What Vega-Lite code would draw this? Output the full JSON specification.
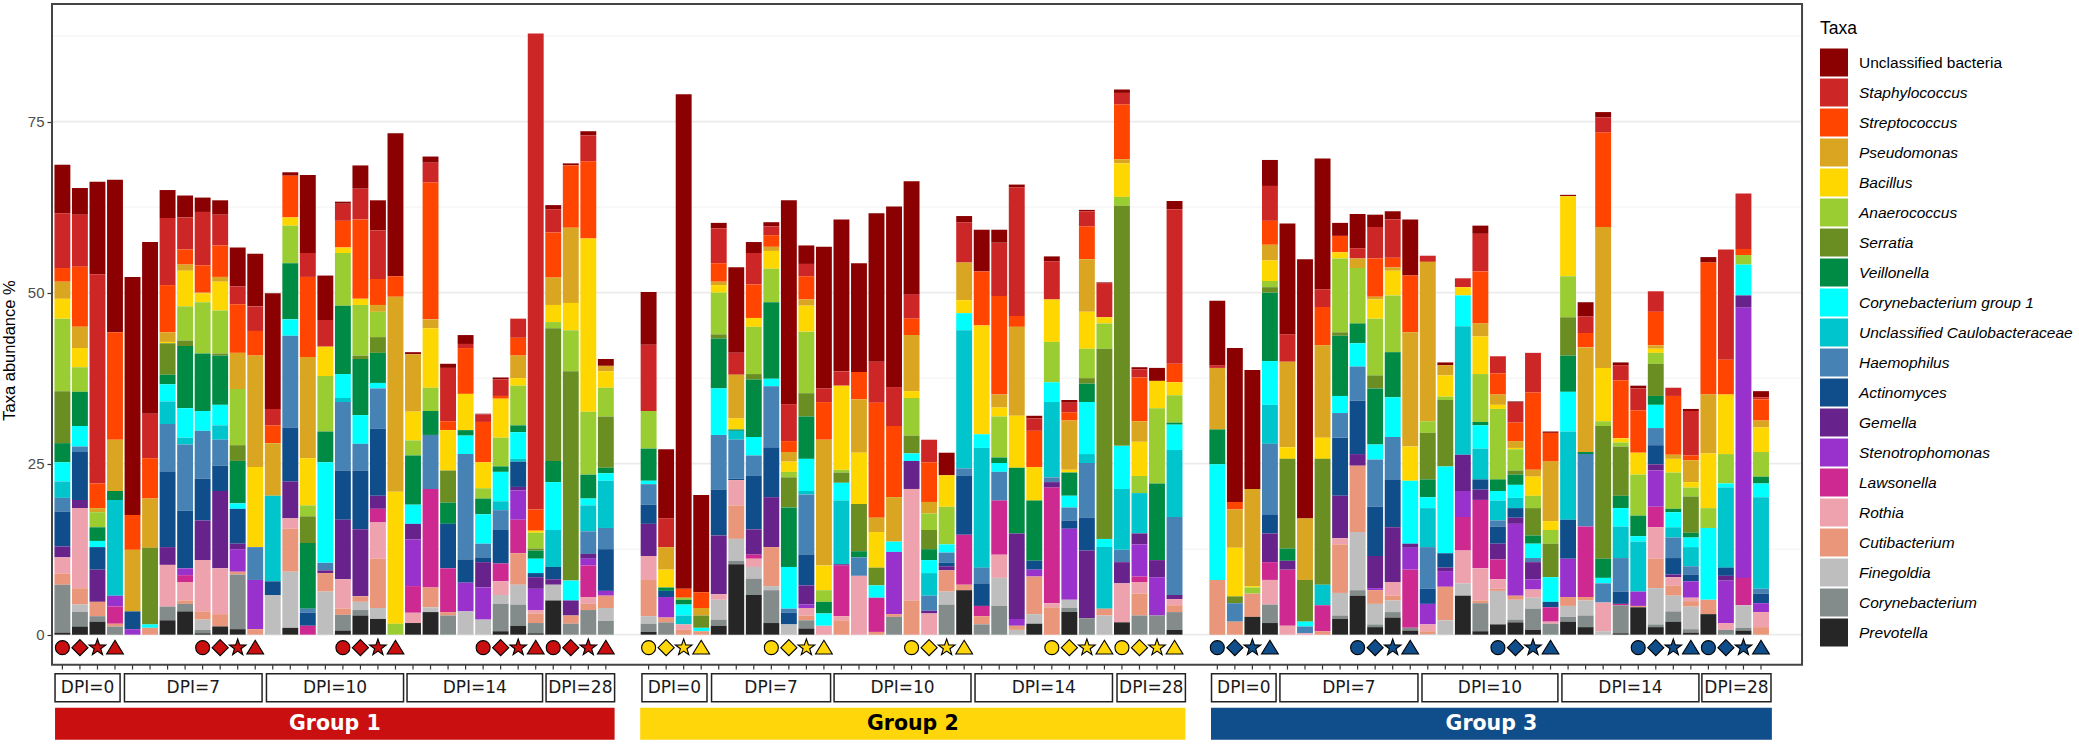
{
"$schema":"https://vega.github.io/schema/vega-lite/v6.json",
"width":1750,"height":736,"autosize":"none",
"padding":{"left":52,"top":4,"right":277,"bottom":5},
"background":"white",
"config":{"view":{"stroke":null},"font":"Liberation Sans"},
"resolve":{"axis":{"y":"independent"}},
"datasets":{
"samples":[
{"s":1,"group":"Group 1","rep":"circle","unc":7.1,"sta":8,"str":2,"pse":2.5,"bac":2.9,"ana":10.6,"ser":7.6,"vei":2.8,"cg1":2.8,"cau":2.4,"hae":2,"act":5.1,"gem":1.6,"rot":2.4,"cut":1.6,"cor":7,"pre":0.3},
{"s":2,"group":"Group 1","rep":"diamond","unc":3.9,"sta":7.6,"str":8.8,"pse":3.1,"bac":2.8,"ana":3.6,"vei":5,"cg1":3,"hae":0.8,"act":7,"gem":1.2,"rot":11.7,"cut":2.4,"fin":1.1,"cor":2.1,"pre":1.2},
{"s":3,"group":"Group 1","rep":"star","unc":13.5,"sta":30.6,"str":3.6,"pse":0.6,"ana":2.2,"vei":2,"cg1":0.9,"act":3.3,"gem":4.7,"cut":2.1,"cor":0.8,"pre":1.9},
{"s":4,"group":"Group 1","rep":"triangle","unc":22.3,"str":15.7,"pse":7.5,"vei":1.3,"cau":14,"ste":1.6,"law":2.5,"cut":0.4,"cor":1.2},
{"s":5,"group":"Group 1","unc":34.8,"str":5.1,"pse":9,"act":2.6,"ste":0.8},
{"s":6,"group":"Group 1","unc":25.1,"sta":6.5,"str":5.9,"pse":7.2,"ser":11.2,"cg1":0.5,"cut":1},
{"s":7,"group":"Group 1","unc":4.1,"sta":9.8,"str":6.9,"pse":1.4,"bac":0.2,"ser":4.6,"vei":1.4,"cg1":2.5,"cau":3.3,"hae":7,"act":11,"gem":2.6,"rot":6.1,"cor":2,"pre":2.1},
{"s":8,"group":"Group 1","unc":3.2,"sta":4.7,"str":2.2,"pse":0.9,"bac":5.2,"ana":5,"ser":0.8,"vei":9.1,"cg1":4.3,"cau":1,"hae":9.7,"act":8.4,"ste":1,"law":1,"rot":2.7,"cut":0.5,"cor":1.1,"pre":3.4},
{"s":9,"group":"Group 1","rep":"circle","unc":2.1,"sta":7.8,"str":4,"pse":0.1,"bac":1.3,"ana":7.5,"vei":8.4,"cg1":2.9,"hae":7,"act":6.1,"gem":5.8,"rot":7.5,"cut":1.2,"fin":1.5,"cor":0.5,"pre":0.2},
{"s":10,"group":"Group 1","rep":"diamond","unc":2.1,"sta":4.5,"str":4.6,"pse":0.7,"bac":4.2,"ana":6.3,"ser":0.3,"vei":7.2,"cg1":3,"cau":2.1,"hae":3.8,"act":3.7,"gem":11.3,"rot":6.7,"cut":1.8,"pre":1.2},
{"s":11,"group":"Group 1","rep":"star","unc":5.7,"sta":2.6,"str":7.1,"pse":5.3,"ana":8.2,"ser":2.3,"vei":6.2,"cg1":0.8,"act":5.1,"gem":0.8,"ste":3.3,"cut":0.4,"cor":8,"pre":0.8},
{"s":12,"group":"Group 1","rep":"triangle","unc":7.7,"sta":3.6,"str":3.6,"pse":16.3,"bac":11.7,"hae":4.8,"ste":7.2,"cut":0.8},
{"s":13,"group":"Group 1","unc":16.9,"sta":2.4,"str":2.6,"pse":7.7,"cau":12.5,"act":2,"fin":5.8},
{"s":14,"group":"Group 1","unc":0.5,"str":6.1,"bac":1.2,"ana":5.5,"vei":8.2,"cg1":2.4,"hae":13.4,"act":7.9,"gem":5.4,"rot":1.5,"cut":6.3,"fin":8.2,"pre":1},
{"s":15,"group":"Group 1","unc":11.4,"sta":3.5,"str":11.7,"pse":14.8,"bac":6.9,"ana":1.6,"ser":3.9,"vei":9.6,"hae":0.6,"act":1.9,"law":1.3},
{"s":16,"group":"Group 1","unc":6.5,"sta":3.9,"bac":4.3,"ana":8.1,"vei":4.5,"cg1":14.7,"hae":1.1,"gem":0.4,"cut":2.7,"fin":6.3},
{"s":17,"group":"Group 1","rep":"circle","unc":0.3,"sta":2.5,"str":3.9,"bac":0.8,"ana":7.7,"vei":10,"cg1":3.5,"cau":0.6,"hae":10,"act":7.2,"gem":8.7,"rot":4.3,"cut":0.9,"cor":2.3,"pre":0.6},
{"s":18,"group":"Group 1","rep":"diamond","unc":3.4,"sta":4.5,"str":11.6,"bac":0.9,"ana":7.4,"ser":0.5,"vei":8.2,"cg1":4.2,"hae":3.9,"act":8.6,"gem":9.8,"cut":0.8,"fin":1.2,"cor":0.8,"pre":2.8},
{"s":19,"group":"Group 1","rep":"star","unc":4.4,"sta":7.1,"str":3.8,"pse":1,"ana":3.7,"ser":2.3,"vei":4.4,"cg1":0.8,"hae":5.9,"act":9.8,"gem":1.9,"law":2,"rot":5.3,"cut":7.2,"fin":1.6,"pre":2.3},
{"s":20,"group":"Group 1","rep":"triangle","unc":20.9,"str":3,"pse":28.5,"bac":19.3,"ana":1.6},
{"s":21,"group":"Group 1","unc":0.3,"pse":8.4,"bac":4.2,"ana":2.2,"vei":7.2,"cg1":2.8,"gem":2.3,"ste":6.8,"law":3.9,"rot":1.5,"pre":1.7},
{"s":22,"group":"Group 1","unc":0.9,"sta":2.9,"str":20,"pse":1.3,"bac":8.7,"ana":3.4,"vei":3.5,"hae":7.9,"law":14.4,"cut":2.9,"fin":0.7,"pre":3.3},
{"s":23,"group":"Group 1","unc":0.6,"sta":7.8,"str":1.3,"bac":5.9,"ser":4.7,"vei":3.1,"act":6.5,"law":6.4,"cut":0.5,"cor":2.8},
{"s":24,"group":"Group 1","unc":1.3,"sta":0.6,"str":6.7,"bac":5.3,"vei":0.8,"cg1":2.7,"hae":15.4,"act":3.4,"ste":4.2,"fin":3.4},
{"s":25,"group":"Group 1","rep":"circle","unc":0.1,"sta":1.1,"str":5.9,"bac":3.8,"ana":1.5,"vei":2.3,"cg1":4.3,"hae":2,"act":0.7,"gem":3.7,"ste":4.7,"fin":2.2},
{"s":26,"group":"Group 1","rep":"diamond","unc":0.3,"sta":2.4,"str":0.4,"bac":5.7,"ana":4.2,"vei":0.8,"cg1":4.3,"cau":1.3,"hae":2.9,"act":4.9,"law":2.6,"rot":2,"fin":1.3,"cor":4,"pre":0.5},
{"s":27,"group":"Group 1","rep":"star","sta":2.8,"str":2.6,"pse":3.3,"bac":1.1,"ana":5.8,"vei":1,"cg1":3.9,"cau":0.4,"act":3.7,"gem":0.5,"ste":4.3,"law":4.9,"cut":4.6,"fin":2.9,"cor":3.1,"pre":1.3},
{"s":28,"group":"Group 1","rep":"triangle","sta":69.6,"str":3.1,"bac":0.3,"ana":2.3,"ser":0.3,"vei":1.2,"cg1":2.1,"act":0.6,"gem":1.7,"ste":3.1,"rot":0.5,"cut":1.4,"cor":1.5,"pre":0.2},
{"s":29,"group":"Group 1","rep":"circle","unc":0.6,"sta":3.4,"str":6.6,"pse":4,"bac":2.5,"ana":0.9,"ser":19.4,"vei":3.1,"cg1":7,"cau":5.4,"act":1.8,"gem":0.8,"fin":2.3,"pre":5},
{"s":30,"group":"Group 1","rep":"diamond","unc":0.3,"str":9.1,"pse":11,"bac":4,"ana":6,"ser":30.6,"cg1":2.9,"gem":2.2,"cut":1.2,"cor":1.6},
{"s":31,"group":"Group 1","rep":"star","unc":0.6,"sta":3.8,"str":11.3,"bac":25.3,"ana":9.2,"vei":3.5,"cg1":1,"cau":3.8,"hae":3.3,"gem":0.7,"ste":1,"law":4.6,"rot":1,"cut":0.9,"cor":3.6},
{"s":32,"group":"Group 1","rep":"triangle","unc":1,"pse":0.8,"bac":2.4,"ana":4.2,"ser":7.5,"vei":0.8,"cg1":1.1,"cau":6.9,"hae":3.1,"act":6.1,"ste":0.7,"cut":1.8,"fin":1.9,"cor":2},
{"s":33,"group":"Group 2","rep":"circle","unc":7.7,"sta":9.7,"ana":5.5,"vei":4.7,"cg1":0.5,"hae":3,"act":2.8,"gem":4.7,"rot":3.5,"cut":5.3,"fin":1.1,"cor":1.2,"pre":0.4},
{"s":34,"group":"Group 2","rep":"diamond","unc":10.1,"sta":4.2,"pse":3.3,"bac":2.6,"vei":0.5,"act":0.9,"ste":3,"cut":0.7,"cor":1.8},
{"s":35,"group":"Group 2","rep":"star","unc":72.3,"str":1.3,"ana":0.3,"vei":0.7,"cg1":1.6,"cau":1.3,"rot":0.8,"cut":0.7},
{"s":36,"group":"Group 2","rep":"triangle","unc":14.2,"str":2.3,"pse":1.1,"ser":1.8,"cg1":0.5,"cut":0.5},
{"s":37,"group":"Group 2","unc":0.8,"sta":5.1,"str":2.7,"pse":0.5,"bac":1.1,"ana":6.1,"ser":0.6,"vei":7.3,"cg1":6.8,"hae":8,"act":6.7,"gem":8.6,"rot":0.8,"fin":2.9,"cor":0.9,"pre":1.3},
{"s":38,"group":"Group 2","unc":12.5,"sta":3.2,"pse":6.4,"bac":1.6,"vei":0.2,"cau":1.3,"hae":5.7,"act":0.2,"rot":3.7,"cut":4.9,"fin":3.2,"cor":0.5,"pre":10.3},
{"s":39,"group":"Group 2","unc":1.6,"sta":4.6,"str":4.9,"bac":1.3,"ana":6.9,"ser":0.8,"vei":8.4,"cg1":2.7,"hae":3,"act":7.8,"gem":3.7,"law":0.6,"rot":1.2,"fin":1.7,"cor":2.4,"pre":5.8},
{"s":40,"group":"Group 2","rep":"circle","unc":0.6,"sta":1.3,"str":1.7,"pse":0.6,"bac":2.6,"ana":4.9,"vei":11.2,"cg1":1.1,"hae":9,"act":7.2,"gem":7.3,"cut":5.7,"fin":0.6,"cor":4.8,"pre":1.7},
{"s":41,"group":"Group 2","rep":"diamond","unc":29.8,"sta":5.4,"str":1.6,"pse":1.4,"bac":1.5,"ana":0.8,"ser":4.4,"vei":8.7,"cg1":6.1,"hae":0.6,"act":1.7,"fin":1.5},
{"s":42,"group":"Group 2","rep":"star","unc":2.7,"sta":1.8,"str":3.4,"pse":0.9,"bac":3.8,"ana":9,"ser":3.4,"vei":6.2,"cg1":4.7,"cau":0.5,"hae":8.8,"act":4.5,"gem":2.8,"ste":0.5,"rot":1.1,"cut":0.7,"cor":1.2,"pre":0.9},
{"s":43,"group":"Group 2","rep":"triangle","unc":20.7,"sta":2,"str":5.5,"pse":18.4,"bac":3.6,"ana":1.7,"vei":1.7,"cg1":1.8,"rot":1.3},
{"s":44,"group":"Group 2","unc":22.2,"sta":2.1,"bac":12.3,"ana":0.4,"ser":1.5,"cg1":2.6,"cau":9.3,"gem":0.2,"law":7.4,"rot":0.6,"cut":2.1},
{"s":45,"group":"Group 2","unc":15.9,"str":4,"pse":7.8,"bac":7.5,"ser":6.9,"vei":0.9,"hae":2.7,"rot":8.6},
{"s":46,"group":"Group 2","unc":21.7,"sta":6,"str":16.8,"pse":2.1,"bac":5.2,"ser":2.6,"cg1":1.8,"law":5,"cut":0.4},
{"s":47,"group":"Group 2","unc":26.4,"sta":5.7,"str":10.4,"pse":6.5,"cg1":1.5,"ste":9.1,"cut":0.4,"cor":2.6},
{"s":48,"group":"Group 2","rep":"circle","unc":16.6,"sta":3.5,"str":2.4,"pse":8.2,"bac":1,"ana":5.5,"ser":2.6,"cg1":1.1,"gem":4.1,"rot":16.3,"cut":5},
{"s":49,"group":"Group 2","rep":"diamond","sta":3.3,"str":5.8,"pse":1.7,"ana":2.4,"ser":2.8,"vei":1.6,"cg1":1.9,"cau":3.3,"hae":2.2,"gem":0.4,"rot":3.1},
{"s":50,"group":"Group 2","rep":"star","unc":3.3,"bac":4.6,"ana":5.5,"cg1":1.2,"hae":1.5,"act":0.5,"gem":0.6,"cut":3.1,"fin":1.9,"cor":4.4},
{"s":51,"group":"Group 2","rep":"triangle","unc":0.9,"sta":5.9,"pse":5.5,"bac":1.9,"cg1":2.5,"cau":20.2,"hae":1.1,"act":8.6,"law":7.3,"cut":0.8,"pre":6.5},
{"s":52,"group":"Group 2","unc":6.1,"str":7.9,"bac":15.9,"cg1":2,"cau":17.5,"hae":2.3,"act":3.3,"law":1.5,"cut":1.2,"cor":1.5},
{"s":53,"group":"Group 2","unc":1.9,"sta":7.8,"str":14.4,"pse":1.9,"bac":1.3,"ana":6,"vei":0.8,"cg1":1.3,"hae":4.2,"law":7.9,"rot":3.4,"fin":4.1,"cor":4.2},
{"s":54,"group":"Group 2","unc":0.4,"sta":18.8,"str":1.6,"pse":13,"bac":7.6,"vei":9.6,"gem":12.5,"ste":1,"cut":0.6,"fin":0.7},
{"s":55,"group":"Group 2","unc":0.4,"sta":1.8,"str":5.3,"bac":4.9,"vei":8.8,"act":1.3,"ste":1,"cut":5.5,"fin":1.4,"pre":1.6},
{"s":56,"group":"Group 2","rep":"circle","unc":0.7,"sta":5.6,"bac":6.2,"ana":5.9,"cg1":2.9,"cau":11,"hae":0.7,"gem":0.8,"law":16.9,"rot":0.6,"cut":4},
{"s":57,"group":"Group 2","rep":"diamond","unc":0.4,"sta":1.4,"str":1.2,"pse":7.2,"bac":0.4,"vei":3.4,"cg1":1.7,"hae":1.9,"act":1.2,"ste":10.4,"fin":1.2,"cor":0.6,"pre":3.3},
{"s":58,"group":"Group 2","rep":"star","unc":0.2,"sta":2.2,"str":4.8,"pse":7.7,"bac":5.4,"ana":4.3,"ser":0.8,"vei":2.7,"cg1":7.6,"cau":1.3,"hae":8,"act":4.8,"gem":9.9,"cor":2.4},
{"s":59,"group":"Group 2","rep":"triangle","unc":0.1,"sta":5,"bac":0.9,"ana":3.7,"ser":27.8,"cg1":1.2,"cau":9,"cut":1,"fin":2.8},
{"s":60,"group":"Group 2","rep":"circle","unc":0.5,"sta":1.7,"str":8,"pse":0.6,"bac":4.9,"ana":1.3,"ser":35.1,"cg1":6.3,"cau":8.9,"hae":1.8,"gem":3.1,"rot":5.7,"pre":1.8},
{"s":61,"group":"Group 2","rep":"diamond","unc":0.3,"sta":1.2,"str":6.4,"pse":3,"bac":5,"ana":2.5,"cau":5.9,"gem":1.6,"ste":4.7,"law":0.8,"rot":1.7,"cut":3.2,"cor":2.8},
{"s":62,"group":"Group 2","rep":"star","unc":1.9,"bac":4,"ana":11,"vei":11.2,"gem":2.5,"ste":5.6,"cor":2.8},
{"s":63,"group":"Group 2","rep":"triangle","unc":1.2,"sta":22.6,"str":2.7,"bac":1.9,"ana":4,"vei":0.3,"cg1":3.7,"cau":9.8,"hae":11.4,"gem":0.6,"rot":0.9,"cut":1,"cor":2.6,"pre":0.7},
{"s":64,"group":"Group 3","rep":"circle","unc":9.4,"sta":0.4,"pse":9,"vei":5.1,"cg1":16.9,"cut":8},
{"s":65,"group":"Group 3","rep":"diamond","unc":22.5,"str":1.1,"pse":5.6,"bac":7.1,"ser":1,"hae":2.7,"cut":1.9},
{"s":66,"group":"Group 3","rep":"star","unc":17.4,"pse":14.2,"bac":0.2,"ana":0.9,"cut":3.4,"pre":2.6},
{"s":67,"group":"Group 3","rep":"triangle","unc":3.8,"sta":5.1,"str":3.5,"pse":2.3,"bac":3,"ana":0.9,"ser":0.8,"vei":10,"cg1":6.4,"cau":5.7,"hae":10.4,"act":2.7,"gem":4.2,"law":2.6,"rot":3.6,"cor":2.7,"pre":1.7},
{"s":68,"group":"Group 3","unc":16.2,"sta":4,"pse":12.5,"bac":1.7,"ser":13.1,"vei":1.8,"gem":1.3,"law":8.2,"rot":1.3},
{"s":69,"group":"Group 3","unc":37.9,"pse":9,"ser":6.1,"cg1":0.7,"hae":1,"rot":0.2},
{"s":70,"group":"Group 3","unc":19.1,"sta":2.6,"str":5.6,"pse":13.5,"bac":3.1,"ser":18.4,"cau":3,"law":3.8,"cut":0.5},
{"s":71,"group":"Group 3","unc":1.9,"str":2.4,"bac":0.9,"ana":10.8,"ser":0.5,"vei":8.8,"cg1":2.5,"hae":3.6,"act":8.5,"gem":6.2,"rot":0.9,"cut":7.1,"fin":3.3,"cor":0.5,"pre":2.3},
{"s":72,"group":"Group 3","rep":"circle","unc":5,"sta":1.5,"pse":1.4,"ana":8.1,"vei":2.9,"cg1":3.4,"hae":5,"act":7.8,"gem":1.7,"cut":9.7,"fin":8.5,"cor":0.8,"pre":5.7},
{"s":73,"group":"Group 3","rep":"diamond","unc":1.8,"sta":4.6,"str":5.6,"pse":0.4,"bac":2.8,"ana":8.3,"ser":1.9,"vei":8.2,"cg1":2.2,"hae":6.9,"act":7.2,"gem":4.7,"ste":0.3,"cut":2,"fin":3,"cor":0.4,"pre":1.1},
{"s":74,"group":"Group 3","rep":"star","unc":1.2,"sta":5.6,"str":1.4,"pse":0.5,"bac":3.6,"ana":8.3,"vei":6.6,"cg1":5.8,"hae":6.2,"act":7,"gem":8,"rot":2,"cut":0.7,"fin":1.7,"cor":0.8,"pre":2.5},
{"s":75,"group":"Group 3","rep":"triangle","unc":8.2,"str":8.3,"pse":16.7,"bac":5,"cg1":9.2,"gem":0.6,"ste":3.2,"law":8.5,"cor":0.4,"pre":0.6},
{"s":76,"group":"Group 3","sta":0.9,"pse":23.3,"ana":1.7,"ser":6.8,"vei":2.6,"cg1":1.6,"cau":5.7,"hae":6.1,"act":2.2,"ste":3,"rot":1,"cut":0.4,"fin":0.1},
{"s":77,"group":"Group 3","unc":0.4,"pse":1.5,"bac":3.1,"ana":0.5,"ser":9.7,"cg1":12.7,"act":2.1,"gem":0.5,"ste":2.3,"cut":4.9,"fin":2.1},
{"s":78,"group":"Group 3","sta":1.3,"bac":1.2,"cg1":4.5,"cau":18.8,"gem":5.3,"ste":3.8,"law":4.9,"rot":4.8,"fin":1.8,"pre":5.7},
{"s":79,"group":"Group 3","unc":1.2,"sta":5.5,"str":7.6,"pse":1.9,"bac":5.5,"ana":7,"vei":0.5,"cg1":3.4,"cau":4.5,"act":1.5,"gem":1.5,"law":10,"rot":4.7,"cut":0.4,"cor":4.1,"pre":0.5},
{"s":80,"group":"Group 3","rep":"circle","sta":2.5,"str":3.1,"pse":1.5,"bac":0.6,"ana":10.3,"vei":1.7,"cg1":1.4,"cau":2.9,"hae":0.9,"act":2.5,"gem":2.3,"law":2.9,"rot":1.4,"cut":0.3,"fin":4.9,"pre":1.5},
{"s":81,"group":"Group 3","rep":"diamond","unc":0.2,"sta":2.9,"str":2.7,"pse":1,"bac":0.2,"ana":3.1,"ser":0.6,"vei":1.5,"cg1":1.9,"cau":1.5,"act":1.4,"gem":0.9,"ste":10.5,"cut":0.6,"fin":2.9,"cor":0.4,"pre":1.8},
{"s":82,"group":"Group 3","rep":"star","sta":5.8,"str":11.3,"pse":1,"bac":2.8,"ana":1.8,"ser":4,"vei":1.2,"cg1":2.1,"hae":0.6,"gem":2.5,"ste":1.5,"rot":1.2,"fin":1.6,"cor":3.1,"pre":0.7},
{"s":83,"group":"Group 3","rep":"triangle","unc":0.2,"str":4.2,"pse":8.7,"bac":1.3,"ana":2,"ser":4.9,"cg1":3.6,"act":0.8,"law":2.1,"rot":0.3,"cor":1.6},
{"s":84,"group":"Group 3","unc":0.2,"bac":11.7,"ana":6,"ser":5.6,"vei":5.3,"cg1":5.8,"cau":12.9,"act":5.7,"ste":5.6,"cut":1.3,"fin":1.6,"cor":0.7,"pre":1.9},
{"s":85,"group":"Group 3","unc":2.1,"sta":2.4,"str":2.1,"pse":15.3,"vei":0.3,"hae":10.6,"law":10.3,"cut":0.5,"fin":2.2,"cor":1.7,"pre":1.1},
{"s":86,"group":"Group 3","unc":0.8,"sta":2.2,"str":13.8,"pse":20.6,"bac":7.8,"ana":0.7,"ser":19.4,"vei":2.8,"cg1":0.8,"hae":2.8,"rot":4.2,"fin":0.5},
{"s":87,"group":"Group 3","unc":0.4,"sta":2.2,"str":8.5,"bac":0.6,"ana":0.6,"ser":7.2,"vei":1.8,"cg1":2.7,"cau":4.6,"hae":4.9,"act":1.8,"law":0.2,"cor":4.1,"pre":0.2},
{"s":88,"group":"Group 3","rep":"circle","unc":0.4,"sta":3.2,"str":6.2,"bac":3.2,"ana":6,"vei":3,"cg1":0.8,"cau":7.3,"ste":2.1,"cut":0.2,"pre":4},
{"s":89,"group":"Group 3","rep":"diamond","sta":3,"str":4.9,"pse":0.5,"bac":0.6,"ana":1.6,"ser":4.7,"vei":1.3,"cg1":3.4,"hae":2.5,"act":2.8,"gem":0.9,"ste":5.3,"law":3,"rot":4.6,"cut":4.3,"fin":5.3,"cor":0.4,"pre":1.1},
{"s":90,"group":"Group 3","rep":"star","sta":1.2,"str":8.6,"pse":0.6,"bac":2,"ana":5.3,"vei":0.5,"cg1":2.2,"cau":1.5,"hae":3,"act":2.4,"gem":0.4,"rot":1.2,"cut":1.5,"fin":2.3,"cor":1.5,"pre":1.9},
{"s":91,"group":"Group 3","rep":"triangle","unc":0.3,"sta":6.5,"str":0.7,"pse":3.2,"bac":0.8,"ana":1.3,"ser":5.3,"vei":0.7,"cg1":1.4,"cau":2.8,"hae":1.2,"act":1,"ste":2.4,"rot":0.5,"cut":0.8,"fin":3.3,"cor":0.5,"pre":0.3},
{"s":92,"group":"Group 3","rep":"circle","unc":0.8,"str":19.3,"pse":8.6,"bac":8,"ana":2.9,"cg1":10.5,"cut":2.1,"pre":3},
{"s":93,"group":"Group 3","rep":"diamond","sta":16.1,"str":5.1,"bac":8.7,"ana":4.3,"cg1":0.6,"cau":11.7,"act":1.2,"gem":0.7,"ste":6.2,"rot":1,"cor":0.7},
{"s":94,"group":"Group 3","rep":"star","sta":8.1,"str":0.9,"ana":1.4,"cg1":4.5,"gem":1.8,"ste":39.5,"law":4,"fin":3.3,"cor":0.4,"pre":0.6},
{"s":95,"group":"Group 3","rep":"triangle","unc":0.9,"sta":0.3,"str":3.1,"pse":1,"bac":3.6,"ana":3.6,"vei":1,"cg1":2,"cau":13.4,"hae":0.7,"act":1.4,"ste":1.3,"rot":2.2,"cut":1.1}
],
"strips":[
{"group":"Group 1","dpi":"DPI=0","from":0.58,"to":4.29},
{"group":"Group 1","dpi":"DPI=7","from":4.54,"to":12.39},
{"group":"Group 1","dpi":"DPI=10","from":12.64,"to":20.46},
{"group":"Group 1","dpi":"DPI=14","from":20.66,"to":28.39},
{"group":"Group 1","dpi":"DPI=28","from":28.59,"to":32.5},
{"group":"Group 2","dpi":"DPI=0","from":32.62,"to":36.33},
{"group":"Group 2","dpi":"DPI=7","from":36.59,"to":43.38},
{"group":"Group 2","dpi":"DPI=10","from":43.58,"to":51.39},
{"group":"Group 2","dpi":"DPI=14","from":51.62,"to":59.46},
{"group":"Group 2","dpi":"DPI=28","from":59.72,"to":63.62},
{"group":"Group 3","dpi":"DPI=0","from":63.67,"to":67.35},
{"group":"Group 3","dpi":"DPI=7","from":67.57,"to":75.44},
{"group":"Group 3","dpi":"DPI=10","from":75.67,"to":83.42},
{"group":"Group 3","dpi":"DPI=14","from":83.65,"to":91.46},
{"group":"Group 3","dpi":"DPI=28","from":91.63,"to":95.57}
],
"groups":[
{"group":"Group 1","from":0.58,"to":32.5,"ink":"white"},
{"group":"Group 2","from":32.52,"to":63.62,"ink":"black"},
{"group":"Group 3","from":63.64,"to":95.62,"ink":"white"}
]
},
"layer":[
{"data":{"values":[{"v":0},{"v":25},{"v":50},{"v":75}]},
 "mark":{"type":"rule","stroke":"#ebebeb","strokeWidth":1.6},
 "encoding":{"y":{"field":"v","type":"quantitative","axis":null}}},
{"data":{"values":[{"v":12.5},{"v":37.5},{"v":62.5},{"v":87.5}]},
 "mark":{"type":"rule","stroke":"#f0f0f0","strokeWidth":0.9},
 "encoding":{"y":{"field":"v","type":"quantitative","axis":null}}},
{"data":{"name":"samples"},
 "transform":[
  {"fold":["unc","sta","str","pse","bac","ana","ser","vei","cg1","cau","hae","act","gem","ste","law","rot","cut","fin","cor","pre"],"as":["key","value"]},
  {"filter":"datum.value>0"},
  {"lookup":"key","from":{"data":{"values":[
   {"key":"unc","Taxa":"Unclassified bacteria","rank":1},{"key":"sta","Taxa":"Staphylococcus","rank":2},{"key":"str","Taxa":"Streptococcus","rank":3},{"key":"pse","Taxa":"Pseudomonas","rank":4},{"key":"bac","Taxa":"Bacillus","rank":5},{"key":"ana","Taxa":"Anaerococcus","rank":6},{"key":"ser","Taxa":"Serratia","rank":7},{"key":"vei","Taxa":"Veillonella","rank":8},{"key":"cg1","Taxa":"Corynebacterium group 1","rank":9},{"key":"cau","Taxa":"Unclassified Caulobacteraceae","rank":10},{"key":"hae","Taxa":"Haemophilus","rank":11},{"key":"act","Taxa":"Actinomyces","rank":12},{"key":"gem","Taxa":"Gemella","rank":13},{"key":"ste","Taxa":"Stenotrophomonas","rank":14},{"key":"law","Taxa":"Lawsonella","rank":15},{"key":"rot","Taxa":"Rothia","rank":16},{"key":"cut","Taxa":"Cutibacterium","rank":17},{"key":"fin","Taxa":"Finegoldia","rank":18},{"key":"cor","Taxa":"Corynebacterium","rank":19},{"key":"pre","Taxa":"Prevotella","rank":20}
  ]},"key":"key","fields":["Taxa","rank"]}}
 ],
 "mark":{"type":"bar","orient":"vertical","width":15.9},
 "encoding":{
  "x":{"field":"s","type":"quantitative","axis":null,
   "scale":{"type":"linear","domain":[1,32.5,32.52,63.62,63.64,95],"range":[10.4,562.6,588.2,1133.4,1159,1709],"nice":false,"zero":false,"padding":0}},
  "y":{"field":"value","type":"quantitative","stack":"zero",
   "scale":{"domain":[-15.4,92.2],"nice":false,"zero":false},
   "axis":{"values":[0,25,50,75],"grid":false,"domain":false,"tickSize":5,"tickColor":"#333333","tickWidth":1.2,"labelFontSize":15,"labelColor":"#4d4d4d","labelPadding":3,"title":"Taxa abundance %","titleFont":"Liberation Sans","titleFontSize":16.5,"titleFontWeight":"normal","titleColor":"black","titleX":-35,"titleY":346}},
  "color":{"field":"Taxa","type":"nominal",
   "scale":{"domain":["Unclassified bacteria","Staphylococcus","Streptococcus","Pseudomonas","Bacillus","Anaerococcus","Serratia","Veillonella","Corynebacterium group 1","Unclassified Caulobacteraceae","Haemophilus","Actinomyces","Gemella","Stenotrophomonas","Lawsonella","Rothia","Cutibacterium","Finegoldia","Corynebacterium","Prevotella"],
    "range":["#8B0000","#CD2626","#FF4500","#DAA520","#FFD700","#9ACD32","#6B8E23","#008B45","#00FFFF","#00C5CD","#4682B4","#104E8B","#68228B","#9932CC","#CD2990","#EEA2AD","#E9967A","#BEBEBE","#838B8B","#262626"]},
   "legend":{"orient":"none","legendX":1768,"legendY":16,"title":"Taxa","titleFontSize":17.5,"titleFontWeight":"normal","titleColor":"black","titlePadding":11,"symbolType":"square","symbolSize":784,"symbolStrokeWidth":0,"symbolOpacity":1,"rowPadding":2,"labelFontSize":15.5,"labelColor":"black","labelOffset":11,"labelLimit":300,
    "encoding":{"labels":{"fontStyle":{"value":{"expr":"datum.label=='Unclassified bacteria'?'normal':'italic'"}}}}}},
  "order":{"field":"rank","type":"quantitative","sort":"descending"}
 }},
{"data":{"name":"samples"},
 "mark":{"type":"rule","stroke":"#333333","strokeWidth":1.2},
 "encoding":{"x":{"field":"s","type":"quantitative","axis":null},"y":{"datum":-4.4,"type":"quantitative","axis":null},"y2":{"datum":-5.1}}},
{"data":{"name":"samples"},
 "transform":[{"filter":"isValid(datum.rep)"}],
 "mark":{"type":"point","filled":true,"stroke":"black","strokeWidth":1.1,"opacity":1,"size":196},
 "encoding":{
  "x":{"field":"s","type":"quantitative","axis":null},
  "y":{"datum":-1.9,"type":"quantitative","axis":null},
  "shape":{"field":"rep","type":"nominal","legend":null,
   "scale":{"domain":["circle","diamond","star","triangle"],"range":["circle","M0,-1.15L1.15,0L0,1.15L-1.15,0Z","M0,-1.25L0.29,-0.4L1.19,-0.39L0.47,0.15L0.73,1.01L0,0.5L-0.73,1.01L-0.47,0.15L-1.19,-0.39L-0.29,-0.4Z","M0,-1.05L1.2,0.9L-1.2,0.9Z"]}},
  "fill":{"field":"group","type":"nominal","legend":null,
   "scale":{"domain":["Group 1","Group 2","Group 3"],"range":["#C90F0F","#FFD60A","#104E8B"]}}
 }},
{"data":{"name":"strips"},
 "mark":{"type":"rect","fill":"white","stroke":"#222222","strokeWidth":1.5},
 "encoding":{"x":{"field":"from","type":"quantitative","axis":null},"x2":{"field":"to"},"y":{"datum":-5.7,"type":"quantitative","axis":null},"y2":{"datum":-9.8}}},
{"data":{"name":"strips"},
 "transform":[{"calculate":"(datum.from+datum.to)/2","as":"mid"}],
 "mark":{"type":"text","font":"DejaVu Sans","fontSize":17,"color":"#1a1a1a","baseline":"middle"},
 "encoding":{"x":{"field":"mid","type":"quantitative","axis":null},"y":{"datum":-7.75,"type":"quantitative","axis":null},"text":{"field":"dpi"}}},
{"data":{"name":"groups"},
 "mark":{"type":"rect"},
 "encoding":{"x":{"field":"from","type":"quantitative","axis":null},"x2":{"field":"to"},"y":{"datum":-10.67,"type":"quantitative","axis":null},"y2":{"datum":-15.35},"fill":{"field":"group","type":"nominal","legend":null}}},
{"data":{"name":"groups"},
 "transform":[{"calculate":"(datum.from+datum.to)/2","as":"mid"}],
 "mark":{"type":"text","font":"DejaVu Sans","fontWeight":"bold","fontSize":20.5,"baseline":"middle"},
 "encoding":{"x":{"field":"mid","type":"quantitative","axis":null},"y":{"datum":-13,"type":"quantitative","axis":null},"text":{"field":"group"},"color":{"field":"ink","type":"nominal","scale":null}}},
{"data":{"values":[{"left":0.407,"right":97.34}]},
 "mark":{"type":"rect","fill":null,"stroke":"#444444","strokeWidth":2},
 "encoding":{"x":{"field":"left","type":"quantitative","axis":null},"x2":{"field":"right"},"y":{"datum":92.2,"type":"quantitative","axis":null},"y2":{"datum":-4.4}}}
]
}
